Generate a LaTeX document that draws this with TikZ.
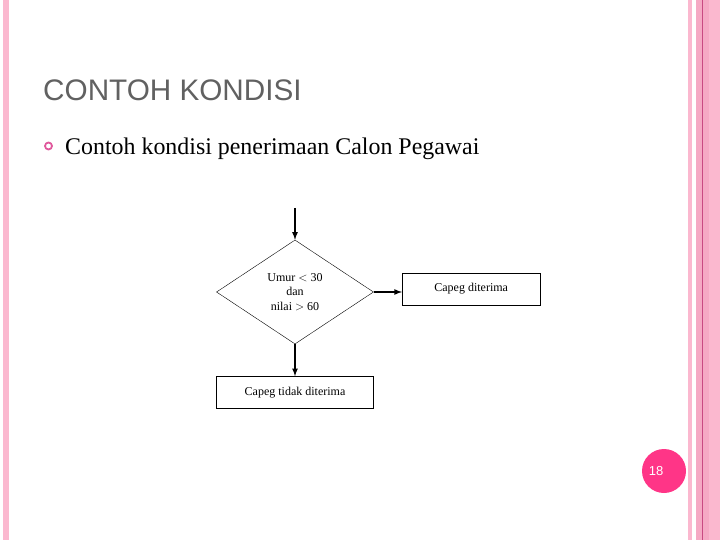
\documentclass[tikz,border=0pt]{standalone}
\usepackage{fontspec}
\setmainfont{Liberation Serif}
\newfontfamily\headfont{Liberation Sans}
\usepackage{tikz}
\usepackage{xcolor}
\usetikzlibrary{positioning}
\usetikzlibrary{shapes.geometric}
\definecolor{stripepink}{HTML}{FBB8CF}
\definecolor{stripedark}{HTML}{F5A9C4}
\definecolor{stripeline}{HTML}{C84A82}
\definecolor{titlegray}{HTML}{616161}
\definecolor{dotpink}{HTML}{E0589C}
\definecolor{numpink}{HTML}{FF3587}
\tikzset{cond node/.style={diamond,draw,thin,inner sep=0pt,minimum width=157pt,minimum height=104pt,align=center,font=\fontsize{12}{14.5}\selectfont},
  box node/.style={rectangle,draw,thin,inner sep=0pt,minimum height=32pt,font=\fontsize{12}{14}\selectfont},
  flow/.style={-latex,draw,line width=1.6pt},}

\begin{document}
\begin{tikzpicture}[x=1pt,y=-1pt]
\useasboundingbox (0,0) rectangle (720,540);

 % slide frame
 \fill[stripepink] (3,0) rectangle (9,540);
 \fill[stripepink] (688,0) rectangle (692,540);
 \fill[stripepink] (696,0) rectangle (720,540);
 \fill[stripedark] (696,0) rectangle (709,540);
 \draw[stripeline,line width=1pt] (702.5,0) -- (702.5,540);

 \node[anchor=base west,inner sep=0pt,text=titlegray,font=\headfont\fontsize{29.7}{32}\selectfont] (title) at (43,101) {CONTOH KONDISI};
 \node[circle,draw=dotpink,line width=1.8pt,minimum size=7pt,inner sep=0pt] (dot) at (48.5,146) {};
 \node[anchor=base west,inner sep=0pt,font=\fontsize{23.9}{26}\selectfont] (sub) at (65,155) {Contoh kondisi penerimaan Calon Pegawai};

 \coordinate (start) at (295,208);
 \node[cond node] (cond) at (295,292) {Umur $<$ 30\\dan\\nilai $>$ 60};
 \node[box node,minimum width=138pt,anchor=west] (yes) at (402,289) {Capeg diterima};
 \node[box node,minimum width=157pt] (no) [below = 32pt of cond] {Capeg tidak diterima};
     \path[flow]    (start) -- (cond.north);
     \path[flow]    (cond.east) -- (cond.east -| yes.west);
     \path[flow]    (cond.south) -- (no.north);

 \node[circle,fill=numpink,minimum size=44pt,inner sep=0pt] (page) at (664,471) {};
 \node[text=white,font=\headfont\fontsize{13}{15}\selectfont] (num) at (656,471) {18};
\end{tikzpicture}
\end{document}
